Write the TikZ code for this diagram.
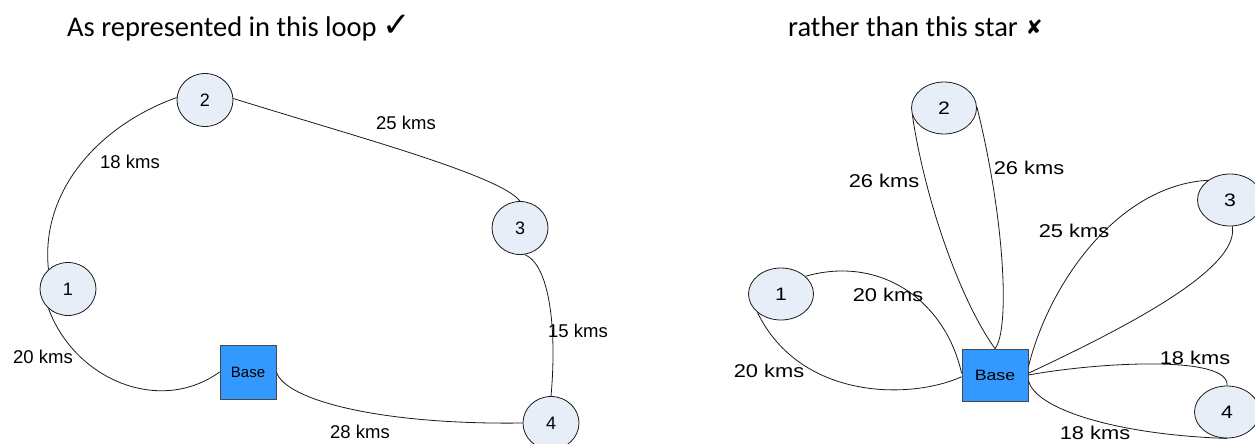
\documentclass[tikz,border=0pt]{standalone}
\usepackage{fontspec}
\usepackage{graphicx}
\setmainfont{Liberation Sans}
\newfontfamily\titlefont{Carlito}
\newfontfamily\symfont{DejaVu Sans}
\usetikzlibrary{shapes.geometric}
\definecolor{nodefill}{HTML}{E8EEF8}
\definecolor{basefill}{HTML}{3399FF}
\definecolor{edgecol}{HTML}{1A1A1A}
\newcommand{\rs}[1]{\scalebox{1.18}[1]{#1}}
\begin{document}
\begin{tikzpicture}[x=1pt,y=-1pt,
  lnode/.style={ellipse, draw=edgecol, line width=0.8pt, fill=nodefill,
    minimum width=56pt, minimum height=53pt, inner sep=0pt,
    font=\fontsize{18}{18}\selectfont},
  rnode/.style={lnode, minimum width=65pt, minimum height=52pt},
  lbase/.style={rectangle, draw=edgecol!80, line width=0.8pt, fill=basefill,
    minimum width=56pt, minimum height=54pt, inner sep=0pt,
    font=\fontsize{15}{15}\selectfont},
  rbase/.style={lbase, minimum width=66pt, minimum height=52pt},
  lbl/.style={inner sep=0pt, font=\fontsize{18.5}{18.5}\selectfont},
  edge/.style={draw=edgecol, line width=0.8pt},
  ttl/.style={anchor=base west, inner sep=0pt, font=\titlefont\fontsize{28.5}{30}\selectfont}
]
\useasboundingbox (0,0) rectangle (1255,444);

% titles
\node[ttl] (t1) at (67,37) {As represented in this loop\hspace{6pt}{\symfont\fontsize{34}{34}\selectfont ✓}};
\node[ttl] (t2) at (788,37) {rather than this star\hspace{8pt}\raisebox{2pt}{\symfont\fontsize{20}{20}\selectfont ✘}};

% ---------- left: loop ----------
\node[lnode] (n1) at (68,289) {1};
\node[lnode] (n2) at (205,100) {2};
\node[lnode] (n3) at (520,228) {3};
\node[lnode] (n4) at (551,423) {4};
\node[lbase] (b1) at (248,372) {Base};

\draw[edge] (n2.175) .. controls (100,125) and (40,190) .. (n1.135);
\draw[edge] (n2.3) .. controls (350,135) and (500,175) .. (n3.north);
\draw[edge] (n3.-80) .. controls (550,265) and (557,330) .. (n4.north);
\draw[edge] (n1.225) .. controls (75,380) and (160,415) .. (b1.west);
\draw[edge] (b1.east) .. controls (285,400) and (380,425) .. (n4.west);

\node[lbl] (l18) at (130,162) {18 kms};
\node[lbl] (l25) at (406,123) {25 kms};
\node[lbl] (l15) at (578,331) {15 kms};
\node[lbl] (l20) at (43,357) {20 kms};
\node[lbl] (l28) at (360,432) {28 kms};

% ---------- right: star ----------
\node[rnode] (r1) at (781,294) {\rs{1}};
\node[rnode] (r2) at (944,108) {\rs{2}};
\node[rnode] (r3) at (1230,200) {\rs{3}};
\node[rnode] (r4) at (1227,412) {\rs{4}};
\node[rbase] (b2) at (995,375) {\rs{Base}};

\draw[edge] (b2.north) .. controls (960,300) and (925,200) .. (r2.193);
\draw[edge] (b2.north) .. controls (1010,330) and (1005,220) .. (r2.2);
\draw[edge] (b2.14) .. controls (1050,280) and (1120,185) .. (r3.138);
\draw[edge] (b2.3) .. controls (1120,330) and (1240,270) .. (r3.-85);
\draw[edge] (b2.177) .. controls (945,300) and (880,255) .. (r1.36);
\draw[edge] (b2.183) .. controls (910,400) and (800,400) .. (r1.218);
\draw[edge] (b2.east) .. controls (1100,362) and (1230,355) .. (r4.north);
\draw[edge] (b2.-9) .. controls (1035,410) and (1120,435) .. (r4.south);

\node[lbl] (m26a) at (884,181) {\rs{26 kms}};
\node[lbl] (m26b) at (1029,168) {\rs{26 kms}};
\node[lbl] (m25) at (1074,231) {\rs{25 kms}};
\node[lbl] (m20a) at (888,295) {\rs{20 kms}};
\node[lbl] (m20b) at (769,371) {\rs{20 kms}};
\node[lbl] (m18a) at (1195,358) {\rs{18 kms}};
\node[lbl] (m18b) at (1095,433) {\rs{18 kms}};
\end{tikzpicture}
\end{document}
